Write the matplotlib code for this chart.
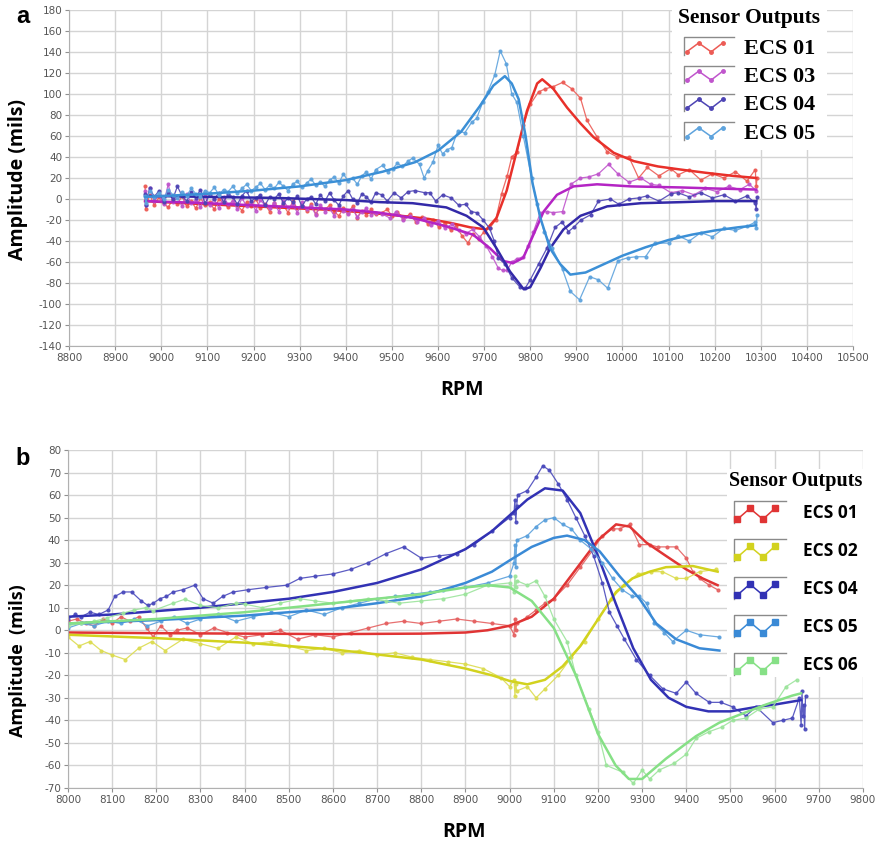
import matplotlib
matplotlib.use('Agg')
import matplotlib.pyplot as plt
from matplotlib.lines import Line2D
from matplotlib.legend_handler import HandlerBase
from matplotlib.ticker import MultipleLocator

plt.rcParams['axes.unicode_minus'] = False

# ---------------- panel a data ----------------
a_rpm_sweep = [8965, 8966, 8975, 8985, 8995, 9005, 9015, 9025, 9035, 9045, 9055, 9065, 9075,
               9085, 9095, 9105, 9115, 9125, 9135, 9145, 9155, 9165, 9175, 9185, 9195, 9205,
               9215, 9225, 9235, 9245, 9255, 9265, 9275, 9285, 9295, 9305, 9315, 9325, 9335,
               9345, 9355, 9365, 9375, 9385, 9395, 9405, 9415, 9425, 9435, 9445, 9455, 9465]

a01_raw_lo = [12, -10, 4, -6, 2, -4, -8, 0, -5, 3, -7, -2, -9, 1, -6, -3, -10, 0, -4, -8, -2, -6,
              -11, -3, -7, 0, -9, -5, -12, -4, -8, -6, -13, -2, -9, -7, -11, -5, -14, -8, -10, -6,
              -12, -16, -9, -13, -7, -18, -11, -15, -10, -14]
a01_rpm_hi = [9478, 9490, 9500, 9512, 9525, 9540, 9552, 9565, 9578, 9590, 9602, 9615, 9628, 9640,
              9652, 9665, 9676, 9688, 9700, 9712, 9725, 9738, 9750, 9760, 9772, 9785, 9800, 9818,
              9833, 9850, 9870, 9890, 9909, 9923, 9945, 9967, 9989, 10014, 10035, 10054, 10079,
              10105, 10121, 10145, 10170, 10195, 10220, 10245, 10270, 10288, 10290, 10292]
a01_raw_hi = [-13, -10, -16, -12, -19, -14, -22, -17, -24, -20, -27, -23, -30, -26, -35, -42, -33,
              -38, -31, -28, -20, 5, 22, 40, 45, 70, 90, 102, 105, 107, 111, 105, 96, 75, 59, 45,
              40, 40, 20, 30, 22, 29, 23, 28, 18, 24, 20, 26, 17, 28, 12, 20]
a01_fit_rpm = [8965, 9050, 9150, 9250, 9350, 9450, 9520, 9580, 9630, 9670, 9705, 9727, 9749, 9771,
               9793, 9815, 9826, 9850, 9880, 9909, 9937, 9981, 10025, 10077, 10127, 10180, 10240, 10290]
a01_fit = [-2, -4, -6, -8, -10, -13, -16, -19, -23, -27, -29, -18, 8, 46, 84, 110, 114, 105, 87,
           72, 59, 44, 36, 31, 28, 25, 22, 20]

a03_raw_lo = [8, -6, 10, -2, 4, -5, 14, -3, 2, -7, 5, -4, -1, -8, 3, -6, 0, -9, 2, -5, -2, -10, 1,
              -7, -3, -11, -1, -6, -9, -4, -12, -2, -8, -5, -13, -3, -10, -7, -15, -6, -12, -9, -16,
              -8, -11, -14, -10, -17, -12, -9, -15, -13]
a03_rpm_hi = [9478, 9495, 9510, 9525, 9540, 9555, 9570, 9585, 9600, 9615, 9630, 9645, 9660, 9675,
              9690, 9705, 9718, 9731, 9740, 9750, 9760, 9771, 9785, 9795, 9807, 9822, 9836, 9850,
              9870, 9888, 9909, 9927, 9948, 9970, 9990, 10014, 10040, 10061, 10079, 10105, 10130,
              10155, 10180, 10205, 10230, 10255, 10275, 10290]
a03_raw_hi = [-14, -18, -12, -20, -16, -22, -18, -25, -21, -28, -24, -30, -33, -29, -36, -45, -55,
              -66, -68, -68, -60, -57, -55, -45, -31, -13, -12, -13, -12, 14, 20, 21, 24, 33, 24, 16,
              20, 14, 13, 6, 8, 4, 10, 7, 12, 9, 14, 8]
a03_fit_rpm = [8965, 9100, 9250, 9400, 9473, 9545, 9618, 9676, 9713, 9741, 9763, 9785, 9807, 9829,
               9858, 9894, 9945, 10018, 10127, 10200, 10290]
a03_fit = [-2, -4, -7, -10, -13, -18, -26, -34, -47, -59, -61, -56, -34, -12, 4, 12, 14, 12, 11, 10, 9]

a04_raw_lo = [5, -6, 10, 2, 8, -3, 6, 0, 12, 3, -2, 7, 1, 9, -4, 4, 0, 6, -3, 5, 2, -5, 3, 8, -2,
              1, 4, -6, 2, 0, 5, -4, 1, -3, 3, -7, 0, 2, -5, 4, -2, 6, -1, -6, 3, 8, 0, -4, 5, 2, -3, 6]
a04_rpm_hi = [9478, 9490, 9505, 9520, 9535, 9550, 9571, 9582, 9595, 9610, 9629, 9645, 9660, 9672,
              9684, 9698, 9712, 9722, 9731, 9745, 9760, 9778, 9789, 9800, 9818, 9836, 9854, 9869,
              9883, 9894, 9910, 9931, 9948, 9974, 9992, 10014, 10035, 10054, 10079, 10105, 10120,
              10145, 10170, 10195, 10220, 10245, 10270, 10288, 10290, 10292]
a04_raw_hi = [4, -2, 6, 1, 7, 8, 6, 6, -2, 4, 1, -6, -5, -12, -13, -20, -28, -40, -56, -62, -75,
              -84, -85, -77, -62, -47, -27, -22, -31, -27, -20, -15, -2, 0, -5, 0, 1, 3, -2, 5, 6, 2,
              6, 1, 4, -2, 3, -4, -10, 2]
a04_fit_rpm = [8965, 9100, 9250, 9400, 9473, 9545, 9618, 9662, 9698, 9727, 9756, 9786, 9800, 9822,
               9843, 9872, 9909, 9967, 10040, 10127, 10200, 10290]
a04_fit = [3, 2, 1, -1, -3, -4, -8, -16, -27, -47, -69, -86, -84, -66, -47, -29, -16, -7, -4, -3, -2, -2]

a05_raw_lo = [3, -4, 8, 2, 6, 0, 9, 4, 1, 7, 3, 10, 5, 2, 8, 6, 11, 4, 9, 7, 12, 6, 10, 14, 8, 11,
              15, 9, 13, 10, 16, 12, 8, 14, 17, 11, 15, 19, 13, 16, 12, 18, 21, 15, 24, 17, 20, 14,
              22, 26, 19, 28]
a05_rpm_hi = [9480, 9491, 9502, 9512, 9523, 9535, 9545, 9560, 9570, 9578, 9589, 9600, 9610, 9620,
              9630, 9643, 9658, 9673, 9684, 9697, 9708, 9723, 9735, 9748, 9760, 9771, 9785, 9803,
              9815, 9830, 9848, 9870, 9887, 9907, 9929, 9948, 9968, 9990, 10011, 10030, 10050,
              10070, 10100, 10120, 10145, 10170, 10195, 10220, 10245, 10270, 10288, 10290, 10292]
a05_raw_hi = [32, 26, 29, 34, 31, 36, 39, 33, 20, 27, 35, 51, 43, 47, 49, 65, 63, 73, 77, 92, 102,
              118, 141, 129, 100, 92, 60, 20, -5, -31, -47, -67, -88, -96, -74, -77, -85, -59, -56,
              -55, -55, -42, -42, -35, -40, -32, -36, -28, -30, -26, -22, -28, -15]
a05_fit_rpm = [8965, 9100, 9200, 9300, 9400, 9480, 9550, 9600, 9650, 9690, 9720, 9745, 9760, 9775,
               9790, 9805, 9822, 9843, 9865, 9887, 9920, 9960, 10000, 10050, 10100, 10150, 10200,
               10250, 10290]
a05_fit = [2, 5, 8, 12, 18, 26, 35, 46, 64, 88, 108, 117, 110, 95, 60, 15, -18, -47, -62, -72, -70,
           -62, -54, -46, -39, -34, -30, -27, -25]

# ---------------- panel b data ----------------
b01_rpm = [8000, 8020, 8040, 8060, 8080, 8100, 8120, 8140, 8160, 8178, 8193, 8210, 8231, 8246,
           8270, 8300, 8330, 8360, 8400, 8440, 8480, 8520, 8560, 8600, 8640, 8680, 8720, 8760,
           8800, 8840, 8880, 8920, 8960, 9000, 9010, 9012, 9014, 9016, 9040, 9060, 9080, 9100,
           9130, 9160, 9190, 9210, 9233, 9249, 9272, 9294, 9317, 9335, 9357, 9377, 9400, 9415,
           9430, 9452, 9471]
b01_raw = [4, 5, 3, 2, 5, 3, 6, 4, 6, 1, -3, 2, -2, 0, 1, -2, 1, -1, -3, -2, 0, -4, -2, -3, -1, 1,
           3, 4, 3, 4, 5, 4, 3, 2, -2, 5, 0, 3, 6, 9, 12, 14, 20, 28, 36, 42, 45, 45, 47, 38, 38,
           37, 37, 37, 32, 26, 23, 20, 18]
b01_fit_rpm = [8000, 8200, 8400, 8600, 8800, 8900, 8950, 9000, 9050, 9100, 9150, 9200, 9241, 9272,
               9309, 9354, 9400, 9437, 9471]
b01_fit = [-1, -1.3, -1.5, -1.7, -1.5, -1, 0, 2, 6, 14, 27, 40, 47, 46, 39, 33, 27, 23, 20]

b02_rpm = [8000, 8025, 8050, 8075, 8100, 8130, 8160, 8190, 8220, 8260, 8300, 8340, 8380, 8420,
           8460, 8500, 8540, 8580, 8620, 8660, 8700, 8740, 8780, 8820, 8860, 8900, 8940, 8980,
           9000, 9010, 9012, 9014, 9016, 9040, 9060, 9080, 9110, 9140, 9170, 9200, 9230, 9260,
           9290, 9320, 9346, 9377, 9400, 9430, 9467]
b02_raw = [-3, -7, -5, -9, -11, -13, -8, -5, -9, -4, -6, -8, -3, -6, -5, -7, -9, -8, -10, -9, -11,
           -10, -12, -13, -14, -15, -17, -21, -25, -22, -29, -24, -27, -25, -30, -26, -20, -12, -5,
           5, 14, 20, 25, 26, 26, 23, 23, 26, 27]
b02_fit_rpm = [8000, 8200, 8400, 8600, 8800, 8900, 8960, 9000, 9040, 9080, 9120, 9160, 9204, 9241,
               9278, 9317, 9354, 9415, 9471]
b02_fit = [-2, -3.5, -5.5, -8.5, -13, -17, -20, -22.5, -24, -22, -16, -7, 6, 17, 23, 26, 28, 28.5, 26]

b04_rpm = [8000, 8016, 8030, 8050, 8070, 8091, 8106, 8125, 8144, 8166, 8181, 8193, 8208, 8223,
           8238, 8260, 8287, 8306, 8329, 8350, 8374, 8408, 8449, 8495, 8525, 8560, 8600, 8640,
           8680, 8720, 8760, 8800, 8840, 8880, 8920, 8960, 9000, 9010, 9012, 9014, 9016, 9018,
           9040, 9060, 9075, 9090, 9110, 9130, 9150, 9170, 9190, 9210, 9226, 9243, 9260, 9287,
           9317, 9347, 9377, 9400, 9422, 9452, 9478, 9505, 9535, 9558, 9596, 9618, 9640, 9656,
           9660, 9662, 9664, 9666, 9668, 9670]
b04_raw = [5, 7, 6, 8, 7, 9, 15, 17, 17, 13, 11, 12, 14, 15, 17, 18, 20, 14, 12, 15, 17, 18, 19,
           20, 23, 24, 25, 27, 30, 34, 37, 32, 33, 34, 38, 44, 50, 52, 58, 48, 55, 60, 62, 68, 73,
           71, 65, 58, 50, 42, 33, 21, 8, 2, -4, -13, -20, -26, -28, -23, -28, -32, -32, -34, -38,
           -34, -41, -40, -39, -30, -42, -27, -38, -33, -44, -29]
b04_fit_rpm = [8000, 8100, 8200, 8300, 8400, 8500, 8600, 8700, 8800, 8900, 8960, 9000, 9040, 9080,
               9120, 9160, 9200, 9240, 9280, 9320, 9360, 9400, 9450, 9500, 9560, 9600, 9660]
b04_fit = [6, 7, 8.5, 10, 12, 14, 17, 21, 27, 36, 44, 51, 58, 63, 62, 52, 33, 12, -8, -22, -30,
           -34, -36, -36, -34, -33, -31]

b05_rpm = [8000, 8030, 8060, 8090, 8120, 8150, 8180, 8210, 8240, 8270, 8300, 8340, 8380, 8420,
           8460, 8500, 8540, 8580, 8620, 8660, 8700, 8740, 8780, 8820, 8850, 8900, 8950, 9000,
           9010, 9012, 9014, 9016, 9040, 9060, 9080, 9100, 9120, 9140, 9160, 9185, 9210, 9233,
           9255, 9278, 9294, 9310, 9328, 9350, 9369, 9400, 9430, 9475]
b05_raw = [1, 3, 2, 4, 3, 5, 2, 4, 6, 3, 5, 7, 4, 6, 8, 6, 9, 7, 10, 12, 14, 15, 16, 17, 18, 19,
           21, 24, 30, 38, 28, 40, 42, 46, 49, 50, 47, 45, 40, 36, 30, 23, 18, 15, 15, 12, 3, -1,
           -5, 0, -2, -3]
b05_fit_rpm = [8000, 8200, 8400, 8600, 8700, 8800, 8900, 8960, 9000, 9050, 9100, 9130, 9170, 9204,
               9249, 9294, 9332, 9377, 9430, 9475]
b05_fit = [3, 4.5, 6.5, 9.5, 12, 15, 21, 26, 31, 37, 41, 42, 40, 35, 24, 14, 3, -4, -8, -9]

b06_rpm = [8000, 8030, 8060, 8088, 8125, 8150, 8176, 8193, 8238, 8265, 8300, 8340, 8380, 8400,
           8440, 8480, 8525, 8560, 8600, 8638, 8680, 8720, 8750, 8800, 8850, 8900, 8950, 9000,
           9010, 9012, 9014, 9016, 9040, 9060, 9080, 9100, 9130, 9150, 9180, 9200, 9219, 9256,
           9280, 9300, 9317, 9339, 9373, 9400, 9422, 9452, 9480, 9505, 9535, 9565, 9596, 9626, 9650]
b06_raw = [2, 3, 4, 5.5, 7.6, 9, 10, 8.7, 12, 13.8, 11, 10, 12, 11.6, 10, 12, 14, 13, 12, 13, 14,
           13, 12, 13, 14, 16, 20, 21, 17, 24, 19, 22, 20, 22, 15, 5, -5, -20, -35, -45, -60, -63,
           -68, -62, -66, -62, -59, -55, -48, -45, -43, -40, -39, -35, -34, -25, -22]
b06_fit_rpm = [8000, 8200, 8400, 8600, 8800, 8900, 8950, 9000, 9050, 9100, 9150, 9200, 9240, 9270,
               9300, 9354, 9422, 9475, 9527, 9580, 9640, 9660]
b06_fit = [3, 5, 8, 12, 16, 19, 20, 19, 13, 1, -20, -46, -60, -66, -66, -57, -47, -41, -37, -33, -29, -28]


# zigzag legend key with the grey corner frame
class SensorKey(HandlerBase):
    def __init__(self, msize, marker):
        super().__init__()
        self.msize = msize
        self.marker = marker

    def create_artists(self, legend, orig_handle, xdescent, ydescent, width, height, fontsize, trans):
        x0, y0 = -xdescent, -ydescent
        xs = [x0 + f * width for f in (0.06, 0.3, 0.55, 0.78)]
        ys = [y0 + f * height for f in (0.18, 0.68, 0.18, 0.68)]
        frame = Line2D([x0, x0, x0 + width], [y0, y0 + height, y0 + height],
                       color='#8a8a8a', lw=1.0, transform=trans)
        zig = Line2D(xs, ys, color=orig_handle.get_color(), lw=1.1, marker=self.marker,
                     ms=self.msize, transform=trans)
        return [frame, zig]


tick_font = ['Liberation Sans Narrow', 'DejaVu Sans']


def style_axes(ax, xlim, ylim, xstep, ystep):
    ax.set_xlim(*xlim)
    ax.set_ylim(*ylim)
    ax.xaxis.set_major_locator(MultipleLocator(xstep))
    ax.yaxis.set_major_locator(MultipleLocator(ystep))
    ax.grid(True, color='#d4d4d4', lw=1.0)
    ax.set_axisbelow(True)
    for side in ['top', 'right']:
        ax.spines[side].set_visible(False)
    for side in ['left', 'bottom']:
        ax.spines[side].set_color('#b0b0b0')
        ax.spines[side].set_linewidth(0.8)
    ax.tick_params(length=3, width=0.8, color='#909090', labelcolor='#555555', labelsize=7.5, pad=2)
    for lab in ax.get_xticklabels() + ax.get_yticklabels():
        lab.set_family(tick_font)


def draw_series(ax, rpm, raw, fit_rpm, fit, col, raw_col, ms):
    ax.plot(rpm, raw, color=raw_col, lw=0.9, marker='o', ms=ms, alpha=0.9)
    ax.plot(fit_rpm, fit, color=col, lw=1.8)


fig = plt.figure(figsize=(8.76, 8.47), dpi=100)

# ---------------- panel a ----------------
ax1 = fig.add_axes([0.0788, 0.5915, 0.895, 0.3967])
a_series = [
    ('ECS 01', a_rpm_sweep + a01_rpm_hi, a01_raw_lo + a01_raw_hi, a01_fit_rpm, a01_fit, '#e8302a', '#ec5b55'),
    ('ECS 03', a_rpm_sweep + a03_rpm_hi, a03_raw_lo + a03_raw_hi, a03_fit_rpm, a03_fit, '#b424c4', '#c055cc'),
    ('ECS 04', a_rpm_sweep + a04_rpm_hi, a04_raw_lo + a04_raw_hi, a04_fit_rpm, a04_fit, '#3329a8', '#4d44b4'),
    ('ECS 05', a_rpm_sweep + a05_rpm_hi, a05_raw_lo + a05_raw_hi, a05_fit_rpm, a05_fit, '#3b8fd6', '#5ea3dd'),
]
for name, rpm, raw, frpm, fit, col, rcol in a_series:
    draw_series(ax1, rpm, raw, frpm, fit, col, rcol, 2.0)
style_axes(ax1, (8800, 10500), (-140, 180), 100, 20)

handles_a = [Line2D([], [], color=s[6]) for s in a_series]
leg_a = ax1.legend(handles_a, [s[0] for s in a_series],
                   handler_map={h: SensorKey(2.5, 'o') for h in handles_a},
                   loc='upper left', bbox_to_anchor=(0.754, 1.0117), bbox_transform=fig.transFigure,
                   title='Sensor Outputs', frameon=True, fancybox=False, framealpha=1,
                   facecolor='white', edgecolor='none', borderpad=0.3,
                   prop={'family': 'Liberation Serif', 'weight': 'bold', 'size': 16},
                   title_fontproperties={'family': 'Liberation Serif', 'weight': 'bold', 'size': 15.5},
                   handlelength=2.25, handleheight=0.85, handletextpad=0.45, labelspacing=0.3)
# a bit more room under the title
leg_a._legend_box.sep = 6.8

fig.text(0.018, 0.98, 'a', fontsize=17, fontweight='bold', family='Liberation Sans', va='center')
fig.text(0.02, 0.788, 'Amplitude (mils)', rotation=90, fontsize=14, fontweight='bold',
         family='Open Sans', ha='center', va='center')
fig.text(0.527, 0.539, 'RPM', fontsize=14, fontweight='bold', family='Open Sans',
         ha='center', va='center')

# ---------------- panel b ----------------
ax2 = fig.add_axes([0.0776, 0.0697, 0.9075, 0.399])
b_series = [
    ('ECS 01', b01_rpm, b01_raw, b01_fit_rpm, b01_fit, '#e03434', '#e56060'),
    ('ECS 02', b02_rpm, b02_raw, b02_fit_rpm, b02_fit, '#d2d21e', '#dcdc50'),
    ('ECS 04', b04_rpm, b04_raw, b04_fit_rpm, b04_fit, '#3232b4', '#4a4abc'),
    ('ECS 05', b05_rpm, b05_raw, b05_fit_rpm, b05_fit, '#3a8ad6', '#5aa0dc'),
    ('ECS 06', b06_rpm, b06_raw, b06_fit_rpm, b06_fit, '#86e086', '#9ce49c'),
]
for name, rpm, raw, frpm, fit, col, rcol in b_series:
    draw_series(ax2, rpm, raw, frpm, fit, col, rcol, 2.0)
style_axes(ax2, (8000, 9800), (-70, 80), 100, 10)

handles_b = [Line2D([], [], color=s[5]) for s in b_series]
leg_b = ax2.legend(handles_b, [s[0] for s in b_series],
                   handler_map={h: SensorKey(4, 's') for h in handles_b},
                   loc='upper left', bbox_to_anchor=(0.8196, 0.4569), bbox_transform=fig.transFigure,
                   title='Sensor Outputs', frameon=True, fancybox=False, framealpha=1,
                   facecolor='white', edgecolor='none', borderpad=0.15,
                   prop={'family': 'Open Sans', 'weight': 'bold', 'size': 12.5},
                   title_fontproperties={'family': 'Liberation Serif', 'weight': 'bold', 'size': 14.5},
                   handlelength=3.0, handleheight=1.55, handletextpad=0.95, labelspacing=0.93)
# pull the entries a little closer to the title
leg_b._legend_box.sep = 7.3

fig.text(0.018, 0.459, 'b', fontsize=17, fontweight='bold', family='Liberation Sans', va='center')
fig.text(0.02, 0.22, 'Amplitude  (mils)', rotation=90, fontsize=13, fontweight='bold',
         family='Open Sans', ha='center', va='center')
fig.text(0.53, 0.018, 'RPM', fontsize=14, fontweight='bold', family='Open Sans',
         ha='center', va='center')

fig.savefig('out.png', dpi=100)
